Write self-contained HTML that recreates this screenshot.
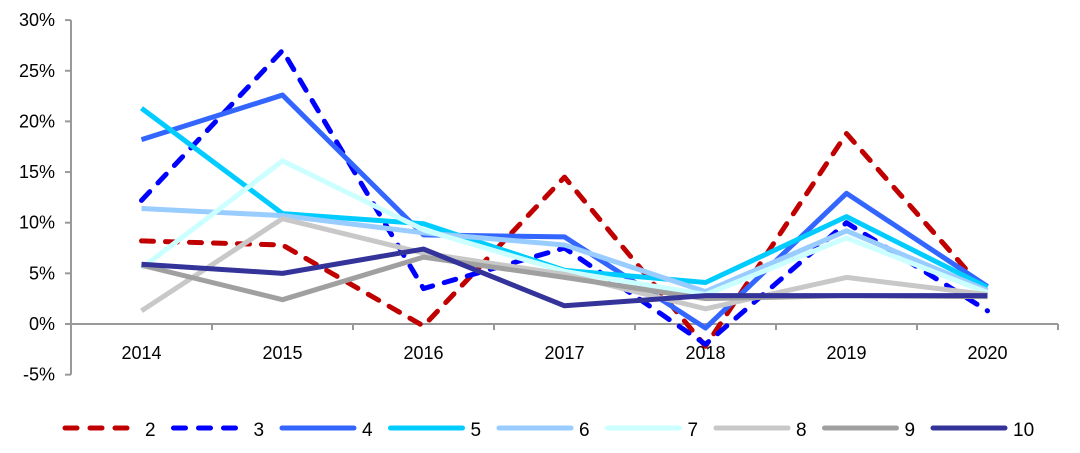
<!DOCTYPE html>
<html><head><meta charset="utf-8"><style>
html,body{margin:0;padding:0;background:#fff;}
svg{display:block;font-family:"Liberation Sans",Arial,sans-serif;}
</style></head><body>
<svg id="chart" width="1080" height="453" viewBox="0 0 1080 453"></svg>
<script>
const categories=["2014","2015","2016","2017","2018","2019","2020"];
const yTicks=[-5,0,5,10,15,20,25,30];
const seriesNames=["2","3","4","5","6","7","8","9","10"];
const s2=[8.2,7.8,-0.2,14.5,-2.2,18.8,3.0];
const s3=[12.2,27.0,3.5,7.5,-2.0,10.0,1.3];
const s4=[18.2,22.6,8.8,8.6,-0.4,12.9,3.7];
const s5=[21.3,10.9,9.9,5.3,4.1,10.6,3.6];
const s6=[11.4,10.7,9.0,7.8,3.2,9.2,3.3];
const s7=[5.5,16.1,9.3,5.2,2.9,8.5,3.1];
const s8=[1.3,10.4,7.0,4.9,1.5,4.6,2.9];
const s9=[5.8,2.4,6.6,4.6,2.5,2.8,2.7];
const s10=[5.9,5.0,7.4,1.8,2.8,2.8,2.8];
const seriesData=[s2,s3,s4,s5,s6,s7,s8,s9,s10];
const colors=["#c00000","#0000ff","#3366ff","#00ccff","#99ccff","#ccffff","#c8c8c8","#a0a0a0","#333399"];
const dashed=[true,true,false,false,false,false,false,false,false];
const NS="http://www.w3.org/2000/svg";
const svg=document.getElementById('chart');
const x0=71,step=141,yZero=324,pxPer=10.13;
const xPos=i=>x0+step*(i+0.5);
const yPos=v=>yZero-v*pxPer;
function mk(t,a){const e=document.createElementNS(NS,t);for(const k in a)e.setAttribute(k,a[k]);svg.appendChild(e);return e;}
let ya=mk('line',{x1:x0,y1:yPos(30),x2:x0,y2:yPos(-5),stroke:'#999','stroke-width':2});


yTicks.forEach(v=>{
  let t=mk('line',{x1:x0-6,y1:yPos(v),x2:x0,y2:yPos(v),stroke:'#999','stroke-width':2});
  
  
  let l=mk('text',{x:x0-16,y:yPos(v)+6,'text-anchor':'end','font-size':18,fill:'#000'});
  l.textContent=v+'%';
  
  
});
let xa=mk('line',{x1:x0,y1:yZero,x2:x0+step*categories.length,y2:yZero,stroke:'#999','stroke-width':2});


for(let i=1;i<=categories.length;i++){
  let t=mk('line',{x1:x0+step*i,y1:yZero,x2:x0+step*i,y2:yZero+6,stroke:'#999','stroke-width':2});
  
  
}
categories.forEach((c,i)=>{
  let l=mk('text',{x:xPos(i),y:359,'text-anchor':'middle','font-size':18,fill:'#000'});
  l.textContent=c;
  
  
});
seriesData.forEach((d,si)=>{
  const pts=d.map((v,i)=>xPos(i)+','+yPos(v)).join(' ');
  const a={points:pts,fill:'none',stroke:colors[si],'stroke-width':5,'stroke-linejoin':'round'};
  if(dashed[si]){a['stroke-dasharray']='12 12';a['stroke-linecap']='round';}
  let p=mk('polyline',a);
  
  
});
seriesNames.forEach((n,si)=>{
  const lx=65+si*108.5;
  const a={x1:lx,y1:428,x2:lx+72,y2:428,stroke:colors[si],'stroke-width':5,'stroke-linecap':'round'};
  if(dashed[si]){a['stroke-dasharray']='12 13';}
  let l=mk('line',a);
  
  
  let t=mk('text',{x:lx+80,y:436,'font-size':19,fill:'#000'});
  t.textContent=n;
  
  
});
</script>
</body></html>
